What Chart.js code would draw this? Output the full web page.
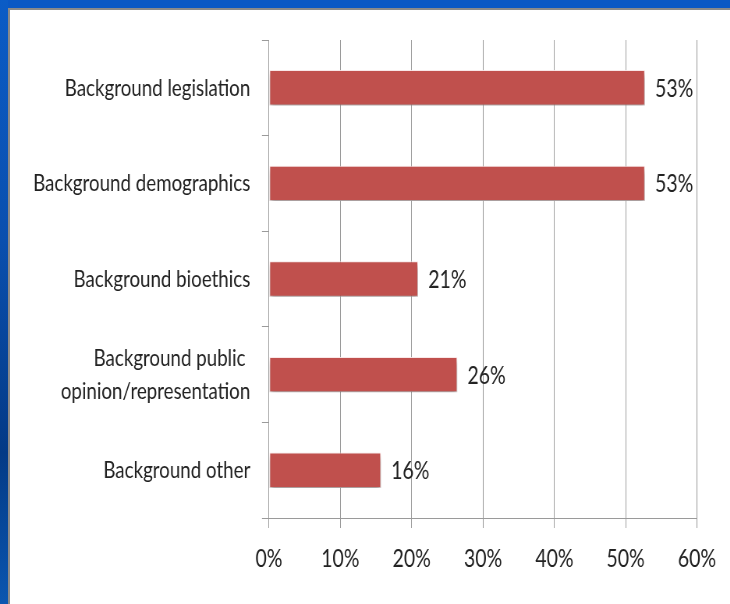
<!DOCTYPE html>
<html>
<head>
<meta charset="utf-8">
<script src="https://cdn.jsdelivr.net/npm/chart.js@4/dist/chart.umd.min.js"></script>
<style>
  html, body { margin: 0; padding: 0; width: 730px; height: 604px; overflow: hidden; background: #fff; }
  body { position: relative; }
  #topband { position: absolute; left: 0; top: 0; width: 730px; height: 8px; background: #0a58c4; }
  #leftband { position: absolute; left: 0; top: 0; width: 8px; height: 604px;
              background: linear-gradient(180deg, #0b5cc6 0%, #0a4fae 40%, #033a86 75%, #0b56b0 100%); }
  #panel { position: absolute; left: 8px; top: 8px; width: 722px; height: 596px; box-sizing: border-box;
           background: #fff; border-left: 2px solid #8a8a8a; border-top: 2px solid #8a8a8a; }
  #clip { position: absolute; left: 0; top: 0; width: 730px; height: 604px; overflow: hidden; }
  #wrap { position: absolute; left: 0; top: 0; width: 936px; height: 604px;
          transform: scaleX(0.78); transform-origin: 0 0; }
</style>
</head>
<body>
<div id="topband"></div>
<div id="leftband"></div>
<div id="panel"></div>
<div id="clip"><div id="wrap"><canvas id="c" width="936" height="604"></canvas></div></div>
<script>
const categories = [
  "Background legislation",
  "Background demographics",
  "Background bioethics",
  ["Background public ", "opinion/representation"],
  "Background other"
];
const values = [52.7, 52.7, 20.9, 26.4, 15.7];
const valueLabels = ["53%", "53%", "21%", "26%", "16%"];
const xTicks = [0, 10, 20, 30, 40, 50, 60];

const SX = 0.78;               // horizontal squeeze of the slide picture
const FONT = "Lato, 'Open Sans', sans-serif";
const FSIZE = 25;
const LSIZE = 24;
const TEXT = "#222222";
const GRID = "#9a9a9a";

const shadowPlugin = {
  id: 'barShadow',
  beforeDatasetsDraw(chart) {
    const ctx = chart.ctx;
    ctx.save();
    ctx.shadowColor = 'rgba(0,0,0,0.38)';
    ctx.shadowBlur = 6;
    ctx.shadowOffsetX = 1;
    ctx.shadowOffsetY = 4;
  },
  afterDatasetsDraw(chart) {
    chart.ctx.restore();
    const ctx = chart.ctx;
    const meta = chart.getDatasetMeta(0);
    ctx.save();
    ctx.font = FSIZE + "px " + FONT;
    ctx.fillStyle = TEXT;
    ctx.textAlign = 'left';
    ctx.textBaseline = 'middle';
    meta.data.forEach((bar, i) => {
      ctx.fillText(valueLabels[i], bar.x + 13, bar.y + 1);
    });
    ctx.restore();
  }
};

const W = 936;
const axisLeft = 269 / SX;
const axisRight = 697 / SX;

new Chart(document.getElementById('c'), {
  type: 'bar',
  data: {
    labels: categories,
    datasets: [{
      data: values,
      backgroundColor: '#c0504d',
      borderColor: 'rgba(255,235,235,0.9)',
      borderWidth: 1,
      borderSkipped: false,
      barPercentage: 0.37,
      categoryPercentage: 1.0
    }]
  },
  options: {
    indexAxis: 'y',
    responsive: false,
    animation: false,
    events: [],
    layout: { padding: { top: 40, right: W - axisRight, left: 0, bottom: 0 } },
    plugins: { legend: { display: false }, tooltip: { enabled: false } },
    scales: {
      x: {
        min: 0, max: 60,
        afterBuildTicks(scale) { scale.ticks = xTicks.map(v => ({ value: v })); },
        afterFit(scale) { scale.height = 604 - 518; },
        grid: { color: GRID, lineWidth: 1, tickLength: 10, drawOnChartArea: true },
        border: { color: GRID, width: 1 },
        ticks: {
          font: { family: FONT, size: FSIZE }, color: TEXT, padding: 16,
          callback: v => v + '%'
        }
      },
      y: {
        afterFit(scale) { scale.width = axisLeft; },
        grid: { color: GRID, drawOnChartArea: false, tickLength: 9, offset: true },
        border: { color: GRID, width: 1 },
        ticks: { font: { family: FONT, size: LSIZE, lineHeight: 1.37 }, color: TEXT, padding: 15 }
      }
    }
  },
  plugins: [shadowPlugin]
});
</script>
</body>
</html>
